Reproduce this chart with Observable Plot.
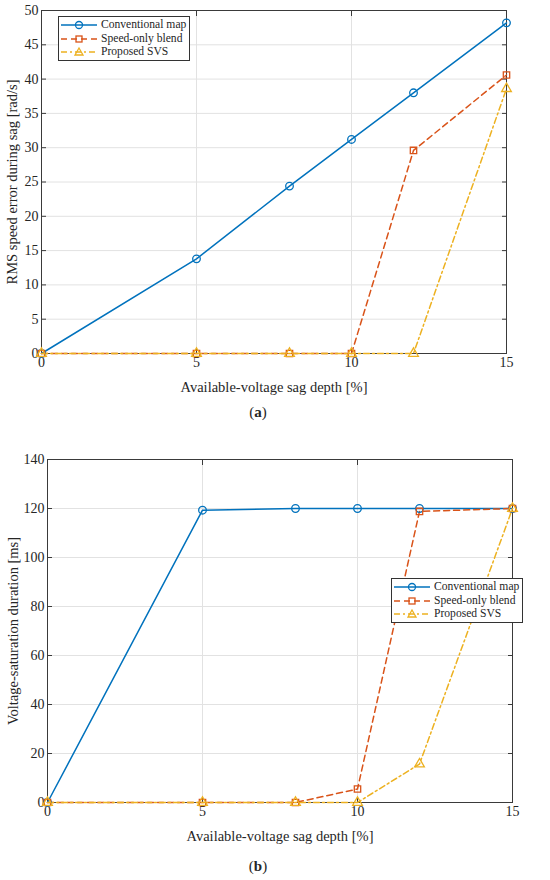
<!DOCTYPE html>
<html><head><meta charset="utf-8">
<script src="https://cdn.jsdelivr.net/npm/d3@7"></script>
<script src="https://cdn.jsdelivr.net/npm/@observablehq/plot@0.6"></script>
<style>
body{margin:0;background:#fff;}
#root{position:relative;width:550px;height:880px;font-family:"Liberation Serif","Times New Roman",serif;color:#262626;}
.panel{position:absolute;left:0;overflow:visible;font-family:"Liberation Serif","Times New Roman",serif !important;}
.panel text{font-size:14px !important;}
.panel g[aria-label="x-axis label"] text, .panel g[aria-label="y-axis label"] text{font-size:14.5px !important;}
.cap{position:absolute;left:0;width:516px;text-align:center;font-size:15px;line-height:17px;}
.legend{position:absolute;background:#fff;border:1px solid #333;font-size:11.6px;padding:1px 3px 1px 1px;line-height:13.7px;}
.legend div{display:flex;align-items:center;white-space:nowrap;height:13.7px;}
.legend svg{margin-right:3px;}
</style></head><body><div id="root"></div>
<script>
const sagDepth = [0, 5, 8, 10, 12, 15];
const seriesNames = ["Conventional map", "Speed-only blend", "Proposed SVS"];
const rmsConventional = [0, 13.8, 24.4, 31.2, 38.0, 48.2];
const rmsSpeedOnly = [0, 0, 0, 0, 29.6, 40.6];
const rmsProposed = [0, 0, 0, 0, 0, 38.6];
const satConventional = [0, 119.3, 120, 120, 120, 120];
const satSpeedOnly = [0, 0, 0, 5.5, 118.8, 120];
const satProposed = [0, 0, 0, 0, 15.7, 120];
const xTicks = [0, 5, 10, 15];
const yTicksA = [0, 5, 10, 15, 20, 25, 30, 35, 40, 45, 50];
const yTicksB = [0, 20, 40, 60, 80, 100, 120, 140];
const xLabel = "Available-voltage sag depth [%]";
const yLabelA = "RMS speed error during sag [rad/s]";
const yLabelB = "Voltage-saturation duration [ms]";

const colors = ["#0072BD", "#D95319", "#EDB120"];
const dashes = [null, "6,4", "6,3,2,3"];
const symbols = ["circle", "square", "triangle"];

const root = document.getElementById("root");

function makePanel(seriesValues, yDomain, yTicks, yLabel, opts) {
  const marks = [
    Plot.gridX(xTicks, {stroke: "#e2e2e2", strokeOpacity: 1}),
    Plot.gridY(yTicks, {stroke: "#e2e2e2", strokeOpacity: 1}),
    Plot.frame({stroke: "#3a3a3a", strokeWidth: 1}),
    Plot.axisX(xTicks, {anchor: "bottom", tickSize: -5, tickPadding: 9, fontSize: 14, stroke: "#3a3a3a", label: xLabel, labelAnchor: "center", labelArrow: "none", labelOffset: opts.xLabelOffset}),
    Plot.axisX(xTicks, {anchor: "top", tickSize: -5, stroke: "#3a3a3a", tickFormat: () => "", label: null}),
    Plot.axisY(yTicks, {anchor: "left", tickSize: -5, tickPadding: 8, fontSize: 14, stroke: "#3a3a3a", label: yLabel, labelAnchor: "center", labelArrow: "none", labelOffset: opts.yLabelOffset}),
    Plot.axisY(yTicks, {anchor: "right", tickSize: -5, stroke: "#3a3a3a", tickFormat: () => "", label: null})
  ];
  seriesValues.forEach((vals, i) => {
    const data = sagDepth.map((x, j) => ({x, y: vals[j]}));
    marks.push(Plot.line(data, {x: "x", y: "y", stroke: colors[i], strokeWidth: 1.5, strokeDasharray: dashes[i]}));
  });
  seriesValues.forEach((vals, i) => {
    const data = sagDepth.map((x, j) => ({x, y: vals[j]}));
    marks.push(Plot.dot(data, {x: "x", y: "y", stroke: colors[i], fill: "none", strokeWidth: 1.3, symbol: symbols[i], r: i === 0 ? 3.8 : 3.6}));
  });
  const chart = Plot.plot({
    width: 550,
    height: opts.height,
    marginTop: opts.mt, marginBottom: opts.mb, marginLeft: opts.ml, marginRight: opts.mr,
    style: {fontFamily: '"Liberation Serif","Times New Roman",serif', fontSize: "14px", color: "#262626", background: "transparent", overflow: "visible"},
    x: {domain: [0, 15]},
    y: {domain: yDomain},
    marks
  });
  chart.classList.add("panel");
  chart.style.top = opts.top + "px";
  root.appendChild(chart);
}

function makeLegend(left, top) {
  const lg = document.createElement("div");
  lg.className = "legend";
  lg.style.left = left + "px";
  lg.style.top = top + "px";
  seriesNames.forEach((name, i) => {
    const row = document.createElement("div");
    const sym = i === 0
      ? `<circle cx="19" cy="7" r="3.5" fill="none" stroke="${colors[i]}" stroke-width="1.3"/>`
      : i === 1
      ? `<rect x="16" y="4" width="6" height="6" fill="none" stroke="${colors[i]}" stroke-width="1.3"/>`
      : `<path d="M19,3 L23,10 L15,10 Z" fill="none" stroke="${colors[i]}" stroke-width="1.3"/>`;
    row.innerHTML = `<svg width="38" height="14"><line x1="1" x2="37" y1="7" y2="7" stroke="${colors[i]}" stroke-width="1.5" ${dashes[i] ? `stroke-dasharray="${dashes[i]}"` : ""}/>${sym}</svg><span>${name}</span>`;
    lg.appendChild(row);
  });
  root.appendChild(lg);
}

makePanel([rmsConventional, rmsSpeedOnly, rmsProposed], [0, 50], yTicksA, yLabelA,
  {top: 0, height: 402, mt: 10, mb: 49, ml: 41, mr: 44, xLabelOffset: 38, yLabelOffset: 35});
makePanel([satConventional, satSpeedOnly, satProposed], [0, 140], yTicksB, yLabelB,
  {top: 449, height: 402, mt: 10, mb: 49, ml: 47, mr: 38, xLabelOffset: 38, yLabelOffset: 40});

makeLegend(58, 16);
makeLegend(391, 578);

const capA = document.createElement("div");
capA.className = "cap"; capA.style.top = "404px";
capA.innerHTML = "(<b>a</b>)";
root.appendChild(capA);
const capB = document.createElement("div");
capB.className = "cap"; capB.style.top = "858px";
capB.innerHTML = "(<b>b</b>)";
root.appendChild(capB);
</script></body></html>
